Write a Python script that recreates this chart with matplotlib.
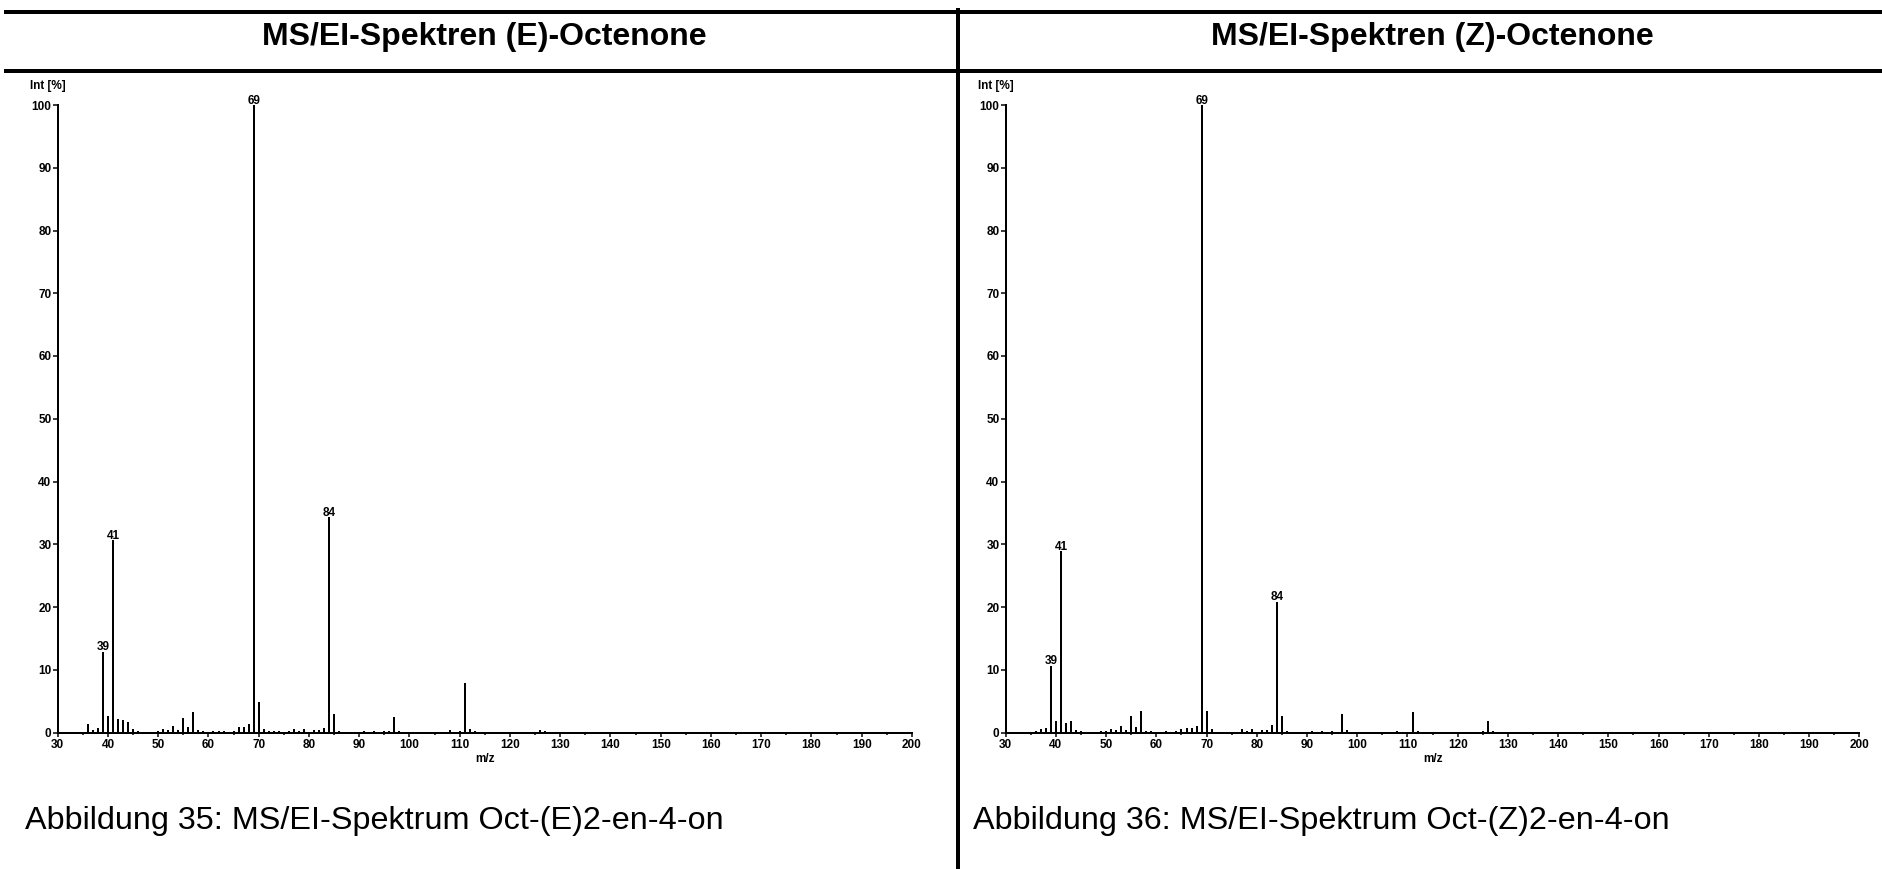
import matplotlib
matplotlib.use("Agg")
import matplotlib.pyplot as plt
from matplotlib.lines import Line2D
from matplotlib.ticker import MultipleLocator

plt.rcParams['font.family'] = ['Liberation Sans', 'DejaVu Sans']

# ---------------- data ----------------
titles = ["MS/EI-Spektren (E)-Octenone", "MS/EI-Spektren (Z)-Octenone"]
captions = ["Abbildung 35: MS/EI-Spektrum Oct-(E)2-en-4-on",
            "Abbildung 36: MS/EI-Spektrum Oct-(Z)2-en-4-on"]

mz_E = [36, 37, 38, 39, 40, 41, 42, 43, 44, 45, 46, 50, 51, 52, 53, 54, 55, 56, 57, 58,
        59, 61, 62, 63, 65, 66, 67, 68, 69, 70, 71, 72, 73, 74, 76, 77, 78, 79, 80, 81,
        82, 83, 84, 85, 86, 87, 88, 89, 91, 92, 93, 94, 95, 96, 97, 98, 99, 103, 106, 107,
        108, 109, 110, 111, 112, 113, 114, 115, 116, 117, 120, 122, 124, 125, 126, 127, 128, 129, 131, 143,
        159]
int_E = [1.3, 0.4, 0.65, 12.9, 2.7, 30.6, 2.2, 2.0, 1.7, 0.6, 0.2, 0.3, 0.6, 0.35, 1.1, 0.35, 2.3, 0.8, 3.3, 0.4,
         0.25, 0.2, 0.2, 0.2, 0.3, 0.8, 0.8, 1.3, 100.0, 4.8, 0.5, 0.2, 0.2, 0.2, 0.2, 0.6, 0.2, 0.6, 0.15, 0.4,
         0.35, 0.75, 34.3, 2.9, 0.2, 0.1, 0.1, 0.1, 0.3, 0.1, 0.2, 0.1, 0.2, 0.2, 2.4, 0.3, 0.1, 0.1, 0.1, 0.15,
         0.4, 0.15, 0.2, 7.9, 0.5, 0.2, 0.15, 0.15, 0.15, 0.1, 0.1, 0.1, 0.1, 0.15, 0.4, 0.2, 0.15, 0.1, 0.1, 0.15,
         0.15]
labels_E = [39, 41, 69, 84]

mz_Z = [36, 37, 38, 39, 40, 41, 42, 43, 44, 45, 46, 47, 48, 49, 50, 51, 52, 53, 54, 55,
        56, 57, 58, 59, 61, 62, 63, 64, 65, 66, 67, 68, 69, 70, 71, 72, 74, 77, 78, 79,
        80, 81, 82, 83, 84, 85, 86, 87, 88, 89, 91, 92, 93, 94, 95, 96, 97, 98, 99, 103,
        104, 105, 106, 107, 108, 109, 110, 111, 112, 113, 122, 123, 124, 125, 126, 127, 128, 129]
int_Z = [0.3, 0.5, 0.7, 10.6, 1.8, 28.9, 1.5, 1.8, 0.4, 0.2, 0.15, 0.15, 0.15, 0.25, 0.3, 0.5, 0.35, 1.1, 0.4, 2.7,
         0.8, 3.4, 0.3, 0.2, 0.15, 0.2, 0.15, 0.2, 0.5, 0.7, 0.7, 1.1, 100.0, 3.5, 0.6, 0.15, 0.15, 0.6, 0.25, 0.6,
         0.15, 0.45, 0.35, 1.25, 20.8, 2.6, 0.3, 0.15, 0.1, 0.1, 0.2, 0.15, 0.2, 0.15, 0.2, 0.15, 2.9, 0.4, 0.1, 0.15,
         0.15, 0.1, 0.1, 0.15, 0.2, 0.15, 0.1, 3.3, 0.3, 0.15, 0.1, 0.15, 0.15, 0.2, 1.9, 0.2, 0.15, 0.15]
labels_Z = [39, 41, 69, 84]

x_range = (30, 200)
y_range = (0, 100)

# ---------------- layout (pixels) ----------------
W, H = 1883, 869
fig = plt.figure(figsize=(W / 100, H / 100), dpi=100)


def px_axes(x0, x1, ytop, ybot):
    return fig.add_axes([x0 / W, 1 - ybot / H, (x1 - x0) / W, (ybot - ytop) / H])


def fx(x):
    return x / W


def fy(y):
    return 1 - y / H


PX = 0.72  # points per pixel at dpi 100

# frame lines
fig.add_artist(Line2D([fx(6), fx(W)], [fy(12), fy(12)], color='black', lw=4 * PX))
fig.add_artist(Line2D([fx(6), fx(W)], [fy(71), fy(71)], color='black', lw=4 * PX))
fig.add_artist(Line2D([fx(958), fx(958)], [fy(10), fy(H)], color='black', lw=4 * PX))

panels = [
    dict(x0=57.7, x1=912.0, mz=mz_E, inten=int_E, labels=labels_E, title=titles[0],
         title_x=484.5, caption=captions[0], cap_x=25),
    dict(x0=1005.7, x1=1859.5, mz=mz_Z, inten=int_Z, labels=labels_Z, title=titles[1],
         title_x=1432, caption=captions[1], cap_x=973),
]

for p in panels:
    ax = px_axes(p['x0'], p['x1'], 105, 732.5)
    ax.vlines(p['mz'], 0, p['inten'], colors='black', lw=2 * PX)
    ax.set_xlim(*x_range)
    ax.set_ylim(*y_range)
    for s in ('top', 'right'):
        ax.spines[s].set_visible(False)
    for s in ('left', 'bottom'):
        ax.spines[s].set_linewidth(2 * PX)
    ax.xaxis.set_major_locator(MultipleLocator(10))
    ax.xaxis.set_minor_locator(MultipleLocator(5))
    ax.yaxis.set_major_locator(MultipleLocator(10))
    ax.tick_params(axis='x', which='major', direction='out', length=4 * PX, width=1.5 * PX,
                   pad=2 * PX, labelsize=8.5)
    ax.tick_params(axis='x', which='minor', direction='out', length=2.5 * PX, width=1.5 * PX)
    ax.tick_params(axis='y', which='major', direction='out', length=5 * PX, width=1.5 * PX,
                   pad=1.2 * PX, labelsize=8.5)
    for lab in ax.get_xticklabels() + ax.get_yticklabels():
        lab.set_fontweight('bold')
    ax.set_xlabel('m/z', fontsize=8.5, fontweight='bold', labelpad=2.5 * PX)
    ax.annotate('Int [%]', xy=(0, 1), xycoords='axes fraction', xytext=(-27.7, 19),
                textcoords='offset pixels', ha='left', va='center', fontsize=8.5,
                fontweight='bold', annotation_clip=False)
    for m in p['labels']:
        v = p['inten'][p['mz'].index(m)]
        ax.annotate(str(m), xy=(m, v), xytext=(0, 1.5), textcoords='offset pixels',
                    ha='center', va='baseline', fontsize=8.5, fontweight='bold',
                    annotation_clip=False)
    fig.text(fx(p['title_x']), fy(45), p['title'], ha='center', va='baseline',
             fontsize=23, fontweight='bold')
    fig.text(fx(p['cap_x']), fy(829), p['caption'], ha='left', va='baseline',
             fontsize=23.3)

fig.savefig('out.png', dpi=100)
